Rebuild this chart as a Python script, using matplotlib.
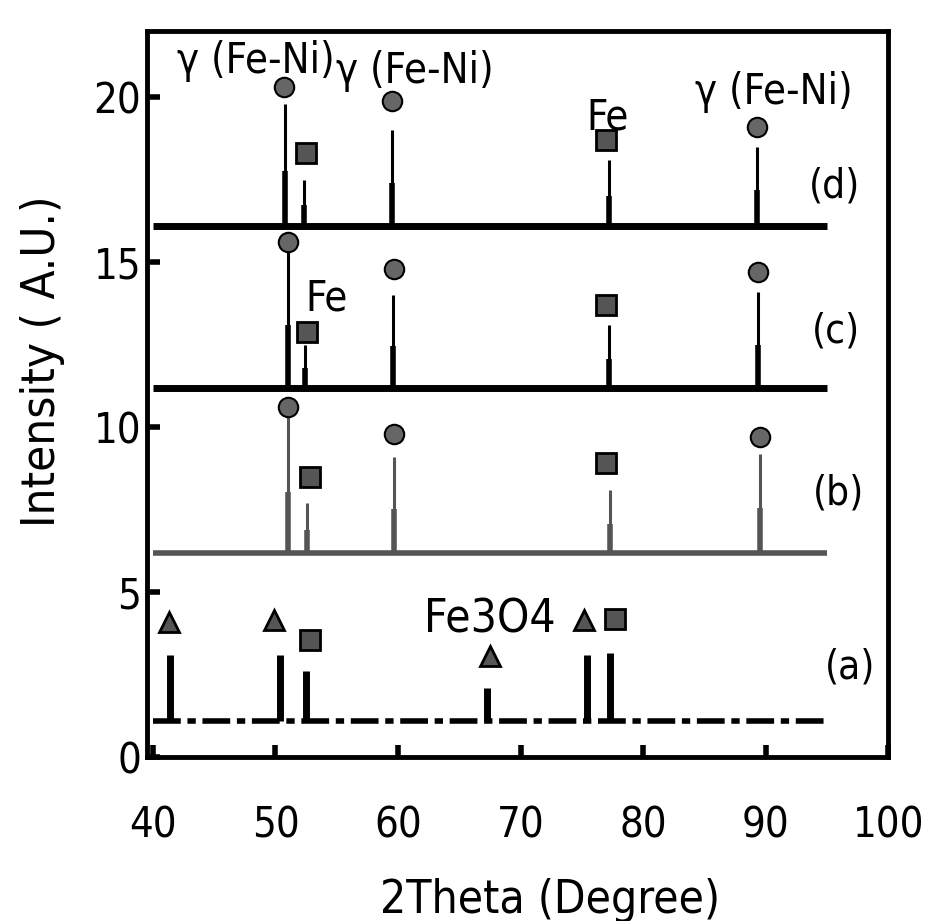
import matplotlib
matplotlib.use("Agg")
import matplotlib.pyplot as plt

# ---------------- data ----------------
patterns = ["(a)", "(b)", "(c)", "(d)"]
baselines = [1.1, 6.2, 11.2, 16.1]

# peak positions (2theta) and top intensities for each pattern
peaks_a_x = [41.4, 50.4, 52.5, 67.3, 75.4, 77.3]
peaks_a_y = [3.1, 3.1, 2.6, 2.1, 3.1, 3.15]
peaks_b_x = [51.0, 52.6, 59.7, 77.3, 89.5]
peaks_b_y = [10.3, 7.7, 9.1, 8.1, 9.2]
peaks_c_x = [51.0, 52.4, 59.6, 77.2, 89.4]
peaks_c_y = [15.4, 12.5, 14.0, 13.1, 14.1]
peaks_d_x = [50.8, 52.3, 59.5, 77.2, 89.3]
peaks_d_y = [19.8, 17.5, 19.0, 18.1, 18.5]

# phase markers: circles = gamma(Fe-Ni), squares = Fe, triangles = Fe3O4
circ_x = [50.7, 59.5, 89.3, 51.0, 59.7, 89.4, 51.0, 59.7, 89.5]
circ_y = [20.3, 19.9, 19.1, 15.6, 14.8, 14.7, 10.6, 9.8, 9.7]
sq_x = [52.5, 77.0, 52.6, 77.0, 52.8, 77.0, 52.8, 77.7]
sq_y = [18.3, 18.7, 12.9, 13.7, 8.5, 8.9, 3.55, 4.2]
tri_x = [41.3, 49.9, 67.5, 75.2]
tri_y = [4.1, 4.15, 3.05, 4.15]

# text labels
ann_text = ["γ (Fe-Ni)", "γ (Fe-Ni)", "Fe", "γ (Fe-Ni)", "Fe", "Fe3O4"]
ann_x = [48.4, 61.4, 77.1, 90.7, 54.2, 67.5]
ann_y = [21.1, 20.8, 19.4, 20.15, 13.9, 4.15]
lab_x = [96.9, 95.9, 95.7, 95.6]
lab_y = [2.7, 8.0, 12.9, 17.3]

x_ticks = [40, 50, 60, 70, 80, 90, 100]
y_ticks = [0, 5, 10, 15, 20]

# ---------------- figure ----------------
plt.rcParams["font.family"] = ["DejaVu Sans"]
cond = dict(family="DejaVu Sans", stretch="condensed")

fig = plt.figure(figsize=(9.35, 9.21), dpi=100)
ax = fig.add_axes([0.157, 0.178, 0.793, 0.788])
ax.set_xlim(39.5, 100)
ax.set_ylim(0, 22)

base_colors = ["black", "#555555", "black", "black"]
base_styles = [(0, (5, 1.2, 1.5, 1.2)), "-", "-", "-"]
base_lw = [4, 4, 5, 5]
all_px = [peaks_a_x, peaks_b_x, peaks_c_x, peaks_d_x]
all_py = [peaks_a_y, peaks_b_y, peaks_c_y, peaks_d_y]

for i in range(4):
    b = baselines[i]
    ax.plot([40, 95], [b, b], color=base_colors[i], lw=base_lw[i],
            ls=base_styles[i], solid_capstyle="butt", zorder=3)
    px, py = all_px[i], all_py[i]
    if i == 0:
        ax.vlines(px, b, py, colors="black", lw=5, zorder=3)
    else:
        ax.vlines(px, b, py, colors=base_colors[i], lw=2.2, zorder=3)
        ax.vlines(px, b, [b + 0.45 * (t - b) for t in py],
                  colors=base_colors[i], lw=4, zorder=3)
    ax.text(lab_x[i], lab_y[i], patterns[i], fontsize=29, ha="center",
            va="center", **cond)

ax.plot(circ_x, circ_y, ls="none", marker="o", ms=14, mfc="#666666",
        mec="black", mew=1.5, zorder=4)
ax.plot(sq_x, sq_y, ls="none", marker="s", ms=14, mfc="#555555",
        mec="black", mew=2, zorder=4)
ax.plot(tri_x, tri_y, ls="none", marker="^", ms=14, mfc="#555555",
        mec="black", mew=2, zorder=4)

ann_sizes = [30, 30, 30, 30, 30, 33]
for t, x, y, fs in zip(ann_text, ann_x, ann_y, ann_sizes):
    ax.text(x, y, t, fontsize=fs, ha="center", va="center", **cond)

for s in ax.spines.values():
    s.set_linewidth(3.5)

ax.set_xticks(x_ticks)
ax.set_yticks(y_ticks)
ax.tick_params(direction="in", length=9, width=4, labelsize=30, pad=4)
ax.tick_params(axis="x", pad=34)
for lbl in ax.get_xticklabels() + ax.get_yticklabels():
    lbl.set_fontstretch("condensed")

ax.set_xlabel("2Theta (Degree)", fontsize=33, **cond)
ax.set_ylabel("Intensity ( A.U.)", fontsize=34, **cond)
ax.xaxis.set_label_coords(0.544, -0.166)
ax.yaxis.set_label_coords(-0.11, 0.545)

fig.savefig("out.png", dpi=100)
